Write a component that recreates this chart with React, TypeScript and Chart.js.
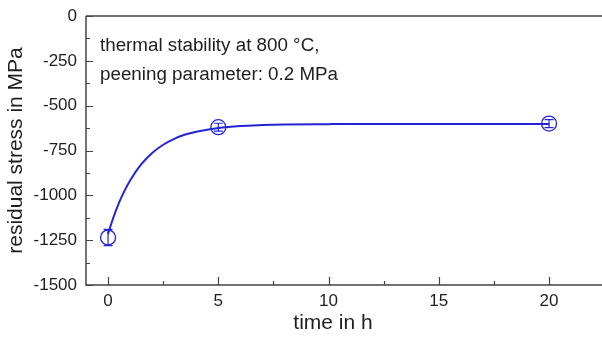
import React, { useEffect, useRef } from 'react';
import { Chart, registerables } from 'chart.js';

Chart.register(...registerables);

const timeH = [0, 5, 20];
const stressMPa = [-1235, -620, -600];
const stressErr = [45, 22, 22];
const fitTimeH = [0, 0.25, 0.5, 0.75, 1, 1.5, 2, 2.5, 3, 3.5, 4, 5, 6, 7, 8, 10, 12, 15, 20];
const fitStressMPa = [-1215, -1121, -1041, -974, -917, -828, -764, -718, -685, -661, -645, -624, -613, -608, -605, -603, -602, -602, -602];
const xTicks = [0, 5, 10, 15, 20];
const xMinorTicks = [2.5, 7.5, 12.5, 17.5];
const yTicks = [0, -250, -500, -750, -1000, -1250, -1500];
const yMinorTicks = [-125, -375, -625, -875, -1125, -1375];
const annotationLines = ['thermal stability at 800 °C,', 'peening parameter: 0.2 MPa'];
const xTitle = 'time in h';
const yTitle = 'residual stress in MPa';

const BLUE = '#2424d4';
const AXIS = '#444444';
const TEXT = '#1e1e1e';
const FONT = "'Liberation Sans', Arial, Helvetica, sans-serif";

const decorPlugin = {
  id: 'decor',
  afterDatasetsDraw(chart: any) {
    const { ctx, scales } = chart;
    const xs = scales.x;
    const ys = scales.y;
    ctx.save();
    ctx.strokeStyle = BLUE;
    ctx.lineWidth = 1.2;
    timeH.forEach((t, i) => {
      const px = xs.getPixelForValue(t);
      const top = ys.getPixelForValue(stressMPa[i] + stressErr[i]);
      const bot = ys.getPixelForValue(stressMPa[i] - stressErr[i]);
      ctx.beginPath();
      ctx.moveTo(px, top);
      ctx.lineTo(px, bot);
      ctx.moveTo(px - 4.5, top);
      ctx.lineTo(px + 4.5, top);
      ctx.moveTo(px - 4.5, bot);
      ctx.lineTo(px + 4.5, bot);
      ctx.stroke();
    });
    ctx.restore();
  },
  afterDraw(chart: any) {
    const { ctx, chartArea, scales } = chart;
    const xs = scales.x;
    const ys = scales.y;
    ctx.save();
    ctx.strokeStyle = AXIS;
    ctx.lineWidth = 1.5;
    ctx.beginPath();
    ctx.moveTo(chartArea.left, chartArea.top);
    ctx.lineTo(chartArea.right, chartArea.top);
    ctx.moveTo(chartArea.left, chartArea.top);
    ctx.lineTo(chartArea.left, chartArea.bottom);
    ctx.lineTo(chartArea.right, chartArea.bottom);
    ctx.stroke();
    ctx.lineWidth = 1.2;
    ctx.beginPath();
    xTicks.forEach((v) => {
      const p = Math.round(xs.getPixelForValue(v)) + 0.5;
      ctx.moveTo(p, chartArea.bottom);
      ctx.lineTo(p, chartArea.bottom - 8);
    });
    xMinorTicks.forEach((v) => {
      const p = Math.round(xs.getPixelForValue(v)) + 0.5;
      ctx.moveTo(p, chartArea.bottom);
      ctx.lineTo(p, chartArea.bottom - 4);
    });
    yTicks.forEach((v) => {
      const p = Math.round(ys.getPixelForValue(v)) + 0.5;
      ctx.moveTo(chartArea.left, p);
      ctx.lineTo(chartArea.left + 7, p);
    });
    yMinorTicks.forEach((v) => {
      const p = Math.round(ys.getPixelForValue(v)) + 0.5;
      ctx.moveTo(chartArea.left, p);
      ctx.lineTo(chartArea.left + 4, p);
    });
    ctx.stroke();
    ctx.fillStyle = TEXT;
    ctx.font = `18.8px ${FONT}`;
    ctx.textAlign = 'left';
    ctx.textBaseline = 'alphabetic';
    annotationLines.forEach((line, i) => {
      ctx.fillText(line, chartArea.left + 14, chartArea.top + 35 + i * 29);
    });
    ctx.font = `21px ${FONT}`;
    ctx.textAlign = 'center';
    ctx.textBaseline = 'middle';
    ctx.fillText(xTitle, xs.getPixelForValue(10.2), chartArea.bottom + 38);
    ctx.restore();
  },
};

export default function App() {
  const ref = useRef<HTMLCanvasElement>(null);
  useEffect(() => {
    if (!ref.current) return;
    const chart = new Chart(ref.current, {
      type: 'scatter',
      data: {
        datasets: [
          {
            label: 'fit',
            data: fitTimeH.map((t, i) => ({ x: t, y: fitStressMPa[i] })),
            showLine: true,
            borderColor: BLUE,
            borderWidth: 2,
            pointRadius: 0,
            cubicInterpolationMode: 'monotone',
            fill: false,
          } as any,
          {
            label: 'measured',
            data: timeH.map((t, i) => ({ x: t, y: stressMPa[i] })),
            showLine: false,
            pointRadius: 7.5,
            pointBorderWidth: 1.3,
            pointBorderColor: BLUE,
            pointBackgroundColor: 'rgba(0,0,0,0)',
          } as any,
        ],
      },
      options: {
        animation: false,
        responsive: false,
        maintainAspectRatio: false,
        devicePixelRatio: 1,
        layout: { autoPadding: false, padding: { top: 16, right: 0, left: 0, bottom: 0 } },
        plugins: { legend: { display: false }, tooltip: { enabled: false } },
        scales: {
          x: {
            type: 'linear',
            min: -1,
            max: 22.4,
            afterBuildTicks: (s: any) => {
              s.ticks = xTicks.map((v) => ({ value: v }));
            },
            afterFit: (s: any) => {
              s.height = 53;
              s.paddingLeft = 0;
              s.paddingRight = 0;
            },
            grid: { display: false, drawTicks: false },
            border: { display: false },
            ticks: {
              padding: 6,
              color: TEXT,
              font: { family: FONT, size: 17 },
              callback: (v: any) => String(v),
            },
          },
          y: {
            type: 'linear',
            min: -1500,
            max: 0,
            afterBuildTicks: (s: any) => {
              s.ticks = yTicks.map((v) => ({ value: v }));
            },
            afterFit: (s: any) => {
              s.width = 86;
              s.paddingTop = 0;
              s.paddingBottom = 0;
            },
            grid: { display: false, drawTicks: false },
            border: { display: false },
            ticks: {
              padding: 9,
              color: TEXT,
              font: { family: FONT, size: 17 },
              callback: (v: any) => String(v),
            },
            title: {
              display: true,
              text: yTitle,
              color: TEXT,
              font: { family: FONT, size: 21 },
              padding: { top: 4, bottom: 0 },
            },
          },
        },
      },
      plugins: [decorPlugin],
    });
    return () => chart.destroy();
  }, []);
  return (
    <div style={{ position: 'absolute', left: 0, top: 0, width: 602, height: 338, background: '#fff' }}>
      <canvas ref={ref} width={602} height={338} style={{ display: 'block', width: 602, height: 338 }} />
    </div>
  );
}
